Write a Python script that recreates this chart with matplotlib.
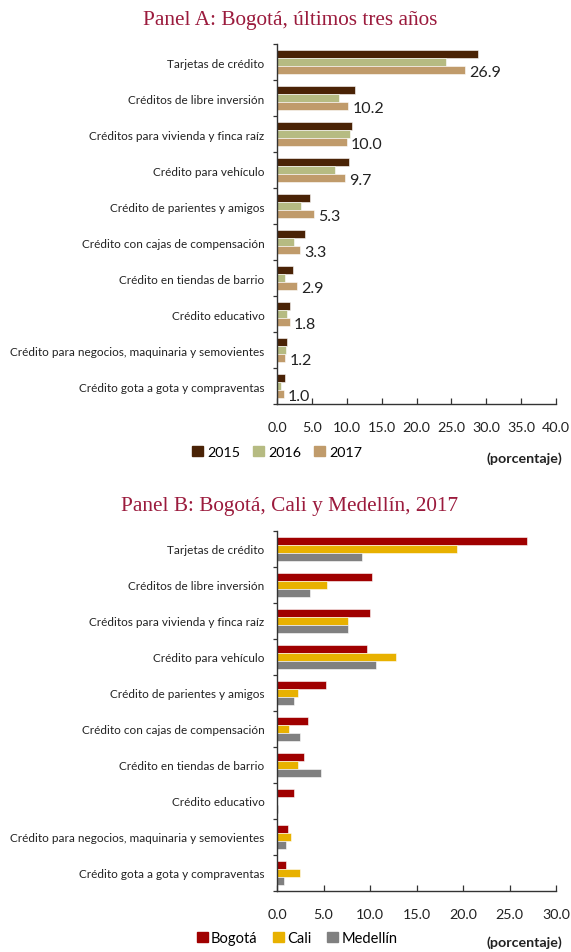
import matplotlib
matplotlib.use("Agg")
import matplotlib.pyplot as plt
import numpy as np
from matplotlib.patches import Patch

# Categories (top to bottom)
categories = [
    "Tarjetas de crédito",
    "Créditos de libre inversión",
    "Créditos para vivienda y finca raíz",
    "Crédito para vehículo",
    "Crédito de parientes y amigos",
    "Crédito con cajas de compensación",
    "Crédito en tiendas de barrio",
    "Crédito educativo",
    "Crédito para negocios, maquinaria y semovientes",
    "Crédito gota a gota y compraventas",
]

# Panel A: Bogotá by year (percent)
bog_2015 = [28.8, 11.2, 10.8, 10.3, 4.8, 4.0, 2.3, 1.8, 1.5, 1.2]
bog_2016 = [24.2, 8.9, 10.4, 8.3, 3.5, 2.4, 1.1, 1.4, 1.3, 0.6]
bog_2017 = [26.9, 10.2, 10.0, 9.7, 5.3, 3.3, 2.9, 1.8, 1.2, 1.0]

# Panel B: cities in 2017 (percent)
bogota = bog_2017
cali = [19.4, 5.4, 7.6, 12.8, 2.3, 1.3, 2.3, 0.0, 1.5, 2.5]
medellin = [9.1, 3.5, 7.6, 10.6, 1.8, 2.5, 4.7, 0.1, 1.0, 0.7]

years = ["2015", "2016", "2017"]
cities = ["Bogotá", "Cali", "Medellín"]

ticks_a = [0, 5, 10, 15, 20, 25, 30, 35, 40]
ticks_b = [0, 5, 10, 15, 20, 25, 30]

colors_a = ["#4a2306", "#b6bb82", "#c09b6b"]
colors_b = ["#a00000", "#e8b100", "#808080"]

SANS = ["Lato", "DejaVu Sans"]
SERIF = ["Liberation Serif", "DejaVu Serif"]
TITLE_COLOR = "#9b1b3d"
TEXT_COLOR = "#222222"
AXIS_COLOR = "#333333"

W, H = 571, 953
fig = plt.figure(figsize=(W / 100, H / 100), dpi=100)


def px_axes(left, top, right, bottom):
    return fig.add_axes([left / W, 1 - bottom / H, (right - left) / W, (bottom - top) / H])


def draw_panel(ax, series, colors, ticks, labels_for=None):
    n = len(categories)
    y = np.arange(n)
    h = 0.222
    offsets = [-h, 0, h]
    for vals, col, off in zip(series, colors, offsets):
        bars = ax.barh(y + off, vals, height=h, color=col, edgecolor="white", linewidth=0.4)
        if labels_for is not None and vals is labels_for:
            for b, v in zip(bars, vals):
                ax.annotate(f"{v:.1f}", xy=(b.get_width(), b.get_y() + b.get_height() / 2),
                            xytext=(3, -1.5), textcoords="offset points", va="center", ha="left",
                            fontsize=11.5, color=TEXT_COLOR, family=SANS)
    ax.set_ylim(n - 0.5, -0.5)
    ax.set_xlim(ticks[0], ticks[-1])
    ax.set_yticks(y)
    ax.set_yticklabels(categories, family=SANS, fontsize=8.45, color=TEXT_COLOR)
    ax.tick_params(axis="y", length=0, pad=9)
    ax.set_yticks(np.arange(-0.5, n, 1.0), minor=True)
    ax.tick_params(axis="y", which="minor", length=3, width=0.9, color=AXIS_COLOR, direction="out")
    ax.set_xticks(ticks)
    ax.set_xticklabels([f"{t:.1f}" for t in ticks], family=SANS, fontsize=10.3, color=TEXT_COLOR)
    ax.tick_params(axis="x", direction="in", length=4, width=0.9, color=AXIS_COLOR, pad=12)
    for s in ("top", "right"):
        ax.spines[s].set_visible(False)
    for s in ("left", "bottom"):
        ax.spines[s].set_color(AXIS_COLOR)
        ax.spines[s].set_linewidth(1.0)


# Panel A
fig.text(290 / W, 1 - 20 / H, "Panel A: Bogotá, últimos tres años", ha="center", va="center",
         family=SERIF, fontsize=15.3, color=TITLE_COLOR)
axA = px_axes(277, 45, 556, 405)
draw_panel(axA, [bog_2015, bog_2016, bog_2017], colors_a, ticks_a, labels_for=bog_2017)
fig.legend(handles=[Patch(color=c, label=l) for c, l in zip(colors_a, years)],
           loc="center", bbox_to_anchor=(277 / W, 1 - 453 / H), ncol=3, frameon=False,
           handlelength=0.75, handleheight=0.75, handletextpad=0.3, columnspacing=0.9,
           prop={"family": SANS, "size": 10.3})
fig.text(562 / W, 1 - 459 / H, "(porcentaje)", ha="right", va="center",
         family=SANS, fontsize=10.3, fontweight="bold", color=TEXT_COLOR)

# Panel B
fig.text(290 / W, 1 - 507 / H, "Panel B: Bogotá, Cali y Medellín, 2017", ha="center", va="center",
         family=SERIF, fontsize=15.3, color=TITLE_COLOR)
axB = px_axes(277, 532, 556, 892)
draw_panel(axB, [bogota, cali, medellin], colors_b, ticks_b)
fig.legend(handles=[Patch(color=c, label=l) for c, l in zip(colors_b, cities)],
           loc="center", bbox_to_anchor=(297 / W, 1 - 939 / H), ncol=3, frameon=False,
           handlelength=0.75, handleheight=0.75, handletextpad=0.2, columnspacing=1.1,
           prop={"family": SANS, "size": 10.5})
fig.text(562 / W, 1 - 943 / H, "(porcentaje)", ha="right", va="center",
         family=SANS, fontsize=10.3, fontweight="bold", color=TEXT_COLOR)

fig.savefig("out.png", dpi=100)
